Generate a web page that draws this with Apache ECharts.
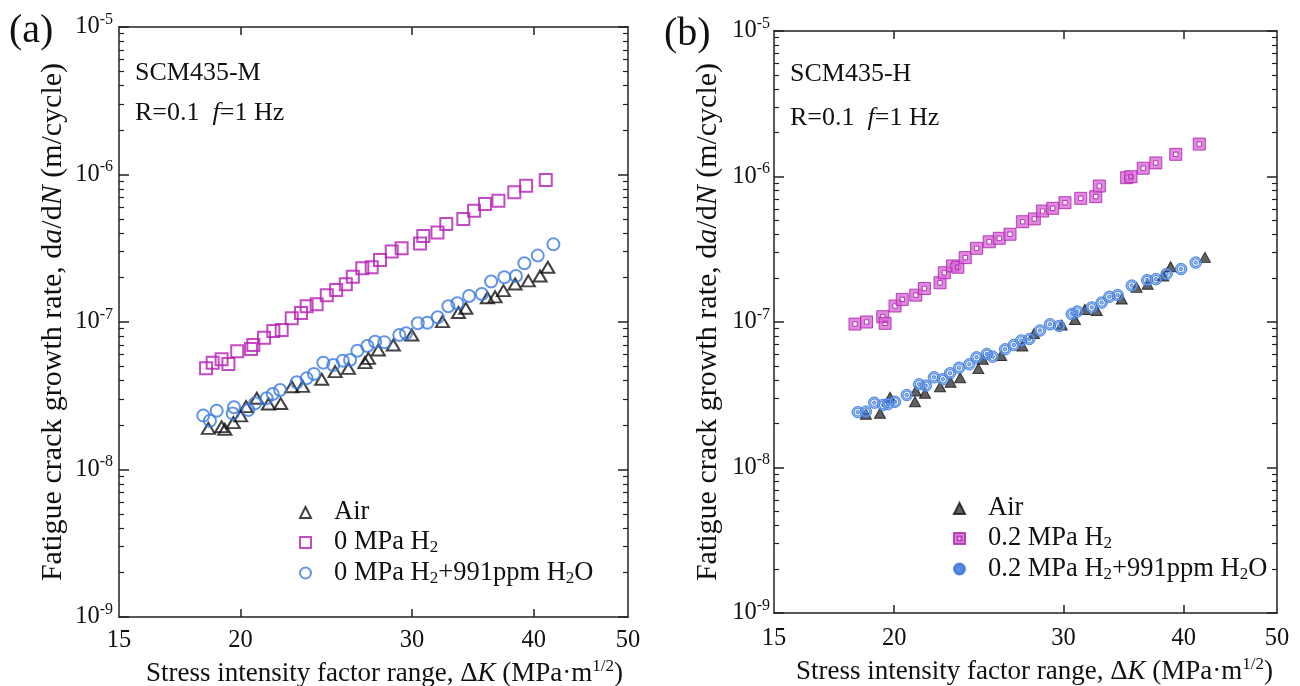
<!DOCTYPE html>
<html><head><meta charset="utf-8">
<script src="https://cdn.jsdelivr.net/npm/echarts@6/dist/echarts.min.js"></script>
<style>html,body{margin:0;padding:0;background:#fff}#c{width:1300px;height:686px}</style>
</head><body><div id="c"></div>
<script>
// ---- tick labels ----
const xTickLabels = [15, 20, 30, 40, 50];
const xTickMarks = [20, 30, 40];
const yDecades = [1e-9, 1e-8, 1e-7, 1e-6, 1e-5];

// ---- panel (a) SCM435-M ----
const aAirK = [18.53,19.12,19.27,19.66,20.00,20.26,20.78,21.36,21.99,22.57,23.16,24.23,25.01,25.81,26.84,27.06,27.70,28.70,29.98,32.24,33.48,34.07,35.85,36.51,37.24,38.28,39.50,40.61,41.36];
const aAirV = [1.90e-8,1.95e-8,1.87e-8,2.08e-8,2.31e-8,2.67e-8,3.04e-8,2.78e-8,2.80e-8,3.64e-8,3.66e-8,4.09e-8,4.61e-8,4.85e-8,5.30e-8,5.67e-8,6.46e-8,6.98e-8,8.16e-8,1.005e-7,1.16e-7,1.24e-7,1.46e-7,1.48e-7,1.63e-7,1.81e-7,1.90e-7,2.05e-7,2.35e-7];
const aH2K = [18.43,18.72,19.12,19.43,19.84,20.50,20.61,21.14,21.61,22.04,22.57,23.07,23.38,23.94,24.52,25.07,25.65,26.08,26.67,27.27,27.81,28.59,29.27,30.57,30.81,31.86,32.53,33.87,34.74,35.65,36.80,38.21,39.29,41.16];
const aH2V = [4.85e-8,5.30e-8,5.59e-8,5.19e-8,6.33e-8,6.56e-8,6.98e-8,7.83e-8,8.69e-8,8.83e-8,1.06e-7,1.15e-7,1.28e-7,1.32e-7,1.52e-7,1.65e-7,1.80e-7,2.03e-7,2.31e-7,2.35e-7,2.63e-7,3.00e-7,3.16e-7,3.40e-7,3.83e-7,4.04e-7,4.62e-7,4.99e-7,5.68e-7,6.31e-7,6.64e-7,7.57e-7,8.39e-7,9.18e-7];
const aH2OK = [18.31,18.60,18.90,19.63,19.69,20.37,20.70,21.27,21.58,21.96,22.84,23.38,23.79,24.32,24.90,25.47,25.91,26.36,26.99,27.49,28.10,29.11,29.58,30.41,31.11,31.88,32.69,33.39,34.33,35.38,36.17,37.32,38.36,39.13,40.39,41.91];
const aH2OV = [2.32e-8,2.14e-8,2.50e-8,2.40e-8,2.64e-8,2.53e-8,2.81e-8,3.04e-8,3.25e-8,3.46e-8,3.90e-8,4.15e-8,4.44e-8,5.30e-8,5.11e-8,5.47e-8,5.52e-8,6.39e-8,6.88e-8,7.35e-8,7.30e-8,8.16e-8,8.38e-8,9.80e-8,9.89e-8,1.076e-7,1.28e-7,1.34e-7,1.50e-7,1.55e-7,1.88e-7,2.01e-7,2.05e-7,2.50e-7,2.82e-7,3.36e-7];

// ---- panel (b) SCM435-H ----
const bAirK = [18.69,19.33,19.80,21.02,21.06,21.53,22.32,22.89,23.42,24.46,24.72,25.83,27.18,27.95,29.87,30.83,31.57,32.48,34.48,35.73,36.69,38.08,38.76,42.08];
const bAirV = [2.32e-8,2.36e-8,3.04e-8,2.83e-8,3.36e-8,3.24e-8,3.59e-8,3.85e-8,4.14e-8,4.78e-8,5.54e-8,5.89e-8,6.84e-8,8.34e-8,9.54e-8,1.04e-7,1.22e-7,1.20e-7,1.44e-7,1.73e-7,1.82e-7,2.07e-7,2.40e-7,2.78e-7];
const bH2K = [18.21,18.72,19.46,19.57,20.04,20.39,21.06,21.50,22.32,22.55,23.00,23.29,23.71,24.36,25.11,25.72,26.39,27.20,27.97,28.53,29.23,30.10,31.26,32.40,32.68,34.89,35.25,36.30,37.41,39.24,41.51];
const bH2V = [9.68e-8,1.00e-7,1.087e-7,9.79e-8,1.288e-7,1.43e-7,1.53e-7,1.70e-7,1.86e-7,2.18e-7,2.43e-7,2.38e-7,2.77e-7,3.21e-7,3.56e-7,3.76e-7,4.01e-7,4.89e-7,5.11e-7,5.79e-7,6.04e-7,6.61e-7,7.08e-7,7.27e-7,8.60e-7,9.81e-7,9.97e-7,1.14e-6,1.24e-6,1.42e-6,1.67e-6];
const bH2OK = [18.33,18.69,19.07,19.48,19.72,20.04,20.61,21.23,21.57,22.00,22.47,22.86,23.36,23.94,24.36,24.96,25.32,26.08,26.63,27.11,27.64,28.35,29.04,29.69,30.59,31.00,32.09,32.86,33.47,34.15,35.32,36.65,37.42,38.39,39.74,41.16];
const bH2OV = [2.40e-8,2.42e-8,2.79e-8,2.69e-8,2.73e-8,2.83e-8,3.15e-8,3.73e-8,3.65e-8,4.17e-8,4.04e-8,4.44e-8,4.85e-8,5.12e-8,5.72e-8,6.03e-8,5.78e-8,6.49e-8,6.95e-8,7.46e-8,7.64e-8,8.74e-8,9.64e-8,9.39e-8,1.135e-7,1.18e-7,1.26e-7,1.36e-7,1.49e-7,1.53e-7,1.78e-7,1.94e-7,1.97e-7,2.14e-7,2.31e-7,2.56e-7];

const legendText = {
  aAir: '{f|Air}',
  aH2: '{f|0 MPa H}{sub|2}',
  aH2O: '{f|0 MPa H}{sub|2}{n|+991ppm H}{sub|2}{n|O}',
  bAir: '{f|Air}',
  bH2: '{f|0.2 MPa H}{sub|2}',
  bH2O: '{f|0.2 MPa H}{sub|2}{n|+991ppm H}{sub|2}{n|O}'
};

// ---- build ----
const zip = (k, v) => k.map((x, i) => [x, v[i]]);
const yMinor = [];
for (let d = -9; d < -5; d++) for (let m = 2; m <= 9; m++) yMinor.push(Number((m * Math.pow(10, d)).toPrecision(3)));

const FONT = '"Liberation Serif", "Times New Roman", serif';
const AX = '#222';
const TXT = '#111';

const grids = [
  {left: 119, top: 27, width: 509, height: 590},
  {left: 774, top: 31, width: 503, height: 582}
];

function xAxes(g) {
  const line = {show: true, onZero: false, lineStyle: {color: AX, width: 1.5}};
  return [
    {gridIndex: g, type: 'log', logBase: 10, min: 15, max: 50, position: 'bottom',
     axisLine: line,
     axisTick: {show: true, inside: true, length: 8, customValues: xTickMarks, lineStyle: {color: AX, width: 1.5}},
     axisLabel: {show: true, customValues: xTickLabels, margin: g ? 13 : 11, color: TXT, fontFamily: FONT, fontSize: 24.5},
     splitLine: {show: false},
     name: '{n|Stress intensity factor range, Δ}{i|K}{n| (MPa·m}{sup|1/2}{n|)}',
     nameLocation: 'middle', nameGap: 38,
     nameTextStyle: {color: TXT, fontFamily: FONT, fontSize: 27, padding: [0, 0, 0, g ? 18 : 22], rich: {
       n: {fontFamily: FONT, fontSize: 27, color: TXT, lineHeight: 33},
       i: {fontFamily: FONT, fontSize: 27, color: TXT, fontStyle: 'italic', lineHeight: 33},
       sup: {fontFamily: FONT, fontSize: 17, color: TXT, lineHeight: 16, verticalAlign: 'top'}
     }}},
    {gridIndex: g, type: 'log', logBase: 10, min: 15, max: 50, position: 'top',
     axisLine: line,
     axisTick: {show: true, inside: true, length: 8, customValues: xTickMarks, lineStyle: {color: AX, width: 1.5}},
     axisLabel: {show: false}, splitLine: {show: false}}
  ];
}

function yAxes(g) {
  const base = {gridIndex: g, type: 'log', logBase: 10, min: 1e-9, max: 1e-5, splitLine: {show: false}};
  const line = {show: true, onZero: false, lineStyle: {color: AX, width: 1.5}};
  const major = {show: true, inside: true, length: 10, customValues: yDecades, lineStyle: {color: AX, width: 1.5}};
  const minor = {show: true, inside: true, length: 5, customValues: yMinor, lineStyle: {color: AX, width: 1.2}};
  return [
    Object.assign({}, base, {position: 'left', axisLine: line, axisTick: major,
      axisLabel: {show: true, customValues: yDecades, margin: g ? 4 : 6,
        formatter: v => '{b|10}{s|' + Math.round(Math.log10(v)) + '}',
        rich: {
          b: {fontFamily: FONT, fontSize: 24.5, color: TXT, lineHeight: 31},
          s: {fontFamily: FONT, fontSize: 16, color: TXT, lineHeight: 14, verticalAlign: 'top'}
        }},
      name: '{n|Fatigue crack growth rate, d}{i|a}{n|/d}{i|N}{n| (m/cycle)}',
      nameLocation: 'middle', nameRotate: 90, nameGap: 51,
      nameTextStyle: {color: TXT, fontFamily: FONT, fontSize: 30, rich: {
        n: {fontFamily: FONT, fontSize: 30, color: TXT},
        i: {fontFamily: FONT, fontSize: 30, color: TXT, fontStyle: 'italic'}
      }}}),
    Object.assign({}, base, {position: 'left', axisLine: {show: false}, axisTick: minor, axisLabel: {show: false}}),
    Object.assign({}, base, {position: 'right', axisLine: line, axisTick: major, axisLabel: {show: false}}),
    Object.assign({}, base, {position: 'right', axisLine: {show: false}, axisTick: minor, axisLabel: {show: false}})
  ];
}

const SQ_HOLE = 'path://M0 0L10 0L10 10L0 10Z M3.2 3.2L3.2 6.8L6.8 6.8L6.8 3.2Z';
const CIRC_HOLE = 'path://M0 -10A10 10 0 1 1 0 10A10 10 0 1 1 0 -10Z M0 -6.5A6.5 6.5 0 1 0 0 6.5A6.5 6.5 0 1 0 0 -6.5Z M0 -3A3 3 0 1 1 0 3A3 3 0 1 1 0 -3Z';

function sc(name, g, data, symbol, size, style) {
  return {type: 'scatter', name, xAxisIndex: g * 2, yAxisIndex: g * 4, data, symbol, symbolSize: size,
    itemStyle: style, silent: true, emphasis: {disabled: true}};
}

const series = [
  sc('aAir', 0, zip(aAirK, aAirV), 'triangle', [13, 11], {color: 'rgba(255,255,255,0)', borderColor: '#111', borderWidth: 2}),
  sc('aH2', 0, zip(aH2K, aH2V), 'rect', 12, {color: 'rgba(255,255,255,0)', borderColor: '#b51db5', borderWidth: 2}),
  sc('aH2O', 0, zip(aH2OK, aH2OV), 'circle', 12, {color: 'rgba(255,255,255,0)', borderColor: '#3b7be0', borderWidth: 2}),
  sc('bAir', 1, zip(bAirK, bAirV), 'triangle', [11, 10], {color: '#3a3a3a', borderColor: '#111', borderWidth: 1}),
  sc('bH2', 1, zip(bH2K, bH2V), SQ_HOLE, 12, {color: '#da6ada', borderColor: '#a81ea8', borderWidth: 1}),
  sc('bH2O', 1, zip(bH2OK, bH2OV), CIRC_HOLE, 11.5, {color: '#78a8f0', borderColor: '#2f6fd8', borderWidth: 1})
];

const legendRich = {
  f: {fontFamily: FONT, fontSize: 26.5, color: TXT, lineHeight: 28, padding: [0, 0, 0, 18]},
  n: {fontFamily: FONT, fontSize: 26.5, color: TXT, lineHeight: 28},
  sub: {fontFamily: FONT, fontSize: 17, color: TXT, lineHeight: 17, verticalAlign: 'bottom'}
};
function legend(names, left, top) {
  return {data: names, orient: 'vertical', left, top, padding: 0, itemGap: 3, itemWidth: 11, itemHeight: 11,
    selectedMode: false, formatter: n => legendText[n],
    textStyle: {fontFamily: FONT, fontSize: 26.5, color: TXT, rich: legendRich}};
}

function txt(x, y, text, size, rich) {
  const st = {text, x: 0, y: 0, fill: TXT, fontFamily: FONT, fontSize: size, verticalAlign: 'middle', align: 'left'};
  if (rich) st.rich = rich;
  return {type: 'text', x, y, style: st, silent: true};
}
const annRich = {
  n: {fontFamily: FONT, fontSize: 26, fill: TXT},
  i: {fontFamily: FONT, fontSize: 26, fill: TXT, fontStyle: 'italic'}
};

const option = {
  backgroundColor: '#fff',
  animation: false,
  grid: grids.map(g => Object.assign({outerBoundsMode: 'none', containLabel: false}, g)),
  xAxis: xAxes(0).concat(xAxes(1)),
  yAxis: yAxes(0).concat(yAxes(1)),
  legend: [legend(['aAir', 'aH2', 'aH2O'], 299, 499), legend(['bAir', 'bH2', 'bH2O'], 953, 495)],
  series,
  graphic: [
    txt(9, 31, '(a)', 40),
    txt(664, 34, '(b)', 40),
    txt(135, 73, 'SCM435-M', 26),
    txt(135, 113, '{n|R=0.1  }{i|f}{n|=1 Hz}', 26, annRich),
    txt(790, 74, 'SCM435-H', 26),
    txt(790, 118, '{n|R=0.1  }{i|f}{n|=1 Hz}', 26, annRich)
  ]
};

const chart = echarts.init(document.getElementById('c'), null, {renderer: 'canvas'});
chart.setOption(option);
</script>
</body></html>
